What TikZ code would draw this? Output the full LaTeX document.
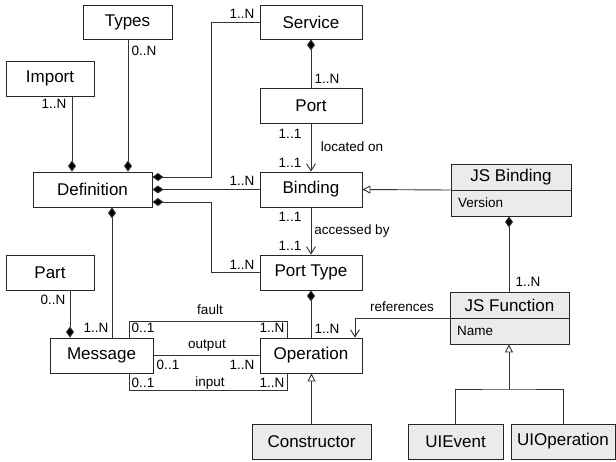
\documentclass[tikz,border=0pt]{standalone}
\usepackage{fontspec}
\setmainfont{Liberation Sans}
\usetikzlibrary{arrows.meta,calc}
\definecolor{boxgray}{HTML}{EBEBEB}
\definecolor{linegray}{HTML}{333333}
\begin{document}
\begin{tikzpicture}[x=1pt,y=-1pt,
  cls/.style={draw=black!85, line width=0.9pt, inner sep=0pt, fill=white,
    font=\fontsize{17}{20}\selectfont, minimum height=35pt},
  gcls/.style={cls, fill=boxgray},
  lbl/.style={inner sep=0pt, font=\fontsize{13.5}{16}\selectfont},
  conn/.style={draw=linegray, line width=0.9pt},
  comp/.style={conn, {Diamond[length=11pt,width=8pt,fill=black]}-},
  nav/.style={conn, -{Straight Barb[length=7pt,width=9pt]}},
  gen/.style={conn, -{Triangle[open,length=8pt,width=8pt,fill=white]}}
]
\useasboundingbox (0,0) rectangle (616,461);

% classes
\node[cls, minimum width=89pt, minimum height=34pt] (types) at (127.5,22) {Types};
\node[cls, minimum width=88pt] (imp) at (50,78.5) {Import};
\node[cls, minimum width=119pt] (def) at (92.5,189.5) {Definition};
\node[cls, minimum width=102pt, minimum height=34pt] (svc) at (311,22) {Service};
\node[cls, minimum width=102pt] (port) at (311,105.5) {Port};
\node[cls, minimum width=102pt] (bind) at (311,189.5) {Binding};
\node[cls, minimum width=102pt] (pt) at (311,272.5) {Port Type};
\node[cls, minimum width=102pt] (op) at (311,355.5) {Operation};
\node[cls, minimum width=103pt] (msg) at (101.5,355.5) {Message};
\node[cls, minimum width=88pt] (part) at (50,272.5) {Part};
\node[gcls, minimum width=119pt] (cons) at (311.5,441.5) {Constructor};
\node[gcls, minimum width=95pt] (uie) at (455.5,441.5) {UIEvent};
\node[gcls, minimum width=104pt] (uio) at (563,441.5) {UIOperation};

% JS Binding
\node[gcls, minimum width=120pt, minimum height=52pt] (jsb) at (511,190) {};
\node[lbl, font=\fontsize{17}{20}\selectfont] (jsbt) at (511,177) {JS Binding};
\draw[draw=black!85, line width=0.9pt] (jsb.west) -- (jsb.east);
\node[lbl, anchor=west] (jsba) at (458,203) {Version};

% JS Function
\node[gcls, minimum width=119pt, minimum height=52pt] (jsf) at (509.5,318) {};
\node[lbl, font=\fontsize{17}{20}\selectfont] (jsft) at (509.5,305) {JS Function};
\draw[draw=black!85, line width=0.9pt] (jsf.west) -- (jsf.east);
\node[lbl, anchor=west] (jsfa) at (457,331) {Name};

% connectors to Definition
\draw[comp] (def.north -| 128,0) -- (types.south -| 128,0);
\draw[comp] (def.north -| 72,0) -- (imp.south -| 72,0);
\draw[comp] ($(def.east)+(0,-12.5)$) -| ($(svc.west)+(-48,0)$) -- (svc.west);
\draw[comp] (def.east) -- (bind.west);
\draw[comp] ($(def.east)+(0,12.5)$) -| ($(pt.west)+(-48,0)$) -- (pt.west);
\draw[comp] (def.south -| 112,0) -- (msg.north -| 112,0);
\draw[comp] (msg.north -| 70,0) -- (part.south -| 70,0);

% central column
\draw[comp] (svc.south) -- (port.north);
\draw[nav] (port.south) -- (bind.north);
\draw[nav] (bind.south) -- (pt.north);
\draw[comp] (pt.south) -- (op.north);
\draw[gen] (cons.north) -- (cons.north |- op.south);

% JS side
\draw[gen] (jsb.west) -- (bind.east);
\draw[comp] (jsb.south -| 509,0) -- (jsf.north -| 509,0);
\draw[nav] (jsf.west) -| (op.north -| 355,0);
\coordinate (jn) at (509,389);
\draw[conn] (uie.north) |- (jn) -| (uio.north);
\draw[gen] (jn) -- (jsf.south -| jn);

% Message - Operation
\draw[conn] (msg.north -| 129,0) -- (129,321) -- (287,321) -- (op.north -| 287,0);
\draw[conn] (msg.east) -- (op.west);
\draw[conn] (msg.south -| 129,0) -- (129,390) -- (287,390) -- (op.south -| 287,0);

% labels
\node[lbl] (l1) at (144,51) {0..N};
\node[lbl] (l2) at (54,104) {1..N};
\node[lbl] (l3) at (242,14) {1..N};
\node[lbl] (l4) at (242,181) {1..N};
\node[lbl] (l5) at (242,265) {1..N};
\node[lbl] (l6) at (327,79) {1..N};
\node[lbl] (l7) at (290,134) {1..1};
\node[lbl] (l8) at (290,163) {1..1};
\node[lbl] (l9) at (352,147) {located on};
\node[lbl] (l10) at (290,217) {1..1};
\node[lbl] (l11) at (290,246) {1..1};
\node[lbl] (l12) at (352,231) {accessed by};
\node[lbl] (l13) at (53,300) {0..N};
\node[lbl] (l14) at (96,328) {1..N};
\node[lbl] (l15) at (210,310) {fault};
\node[lbl] (l16) at (143,328) {0..1};
\node[lbl] (l17) at (272,328) {1..N};
\node[lbl] (l18) at (207,346) {output};
\node[lbl] (l19) at (168,365) {0..1};
\node[lbl] (l20) at (242,365) {1..N};
\node[lbl] (l21) at (143,383) {0..1};
\node[lbl] (l22) at (210,383) {input};
\node[lbl] (l23) at (272,383) {1..N};
\node[lbl] (l24) at (327,329) {1..N};
\node[lbl] (l25) at (402,307) {references};
\node[lbl] (l26) at (528,282) {1..N};
\end{tikzpicture}
\end{document}
